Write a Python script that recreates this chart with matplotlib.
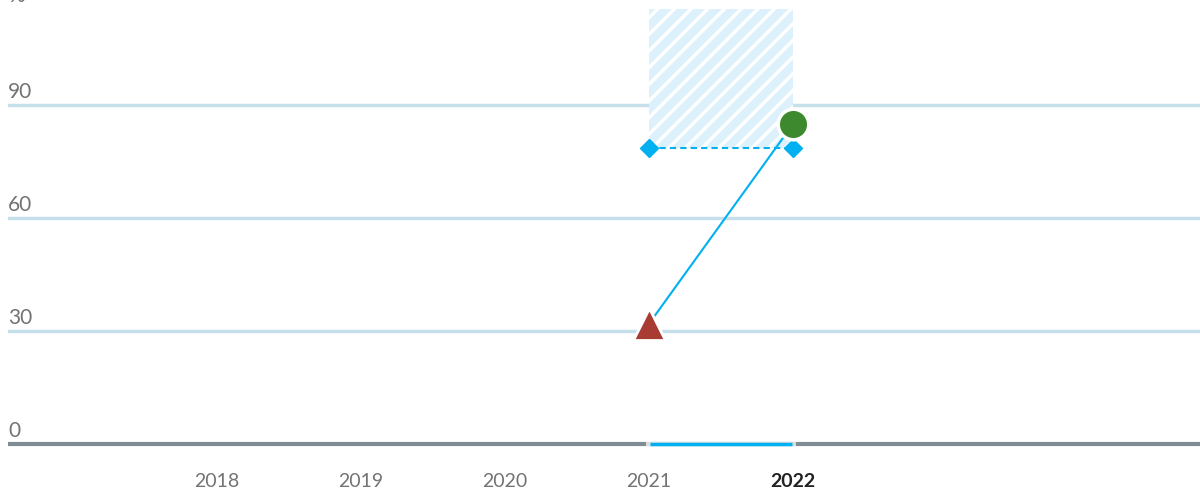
import matplotlib.pyplot as plt
from matplotlib.patches import Rectangle
import matplotlib as mpl

plt.rcParams['font.family'] = ['Lato', 'DejaVu Sans']
mpl.rcParams['hatch.linewidth'] = 2.5

years = [2018, 2019, 2020, 2021, 2022]
yticks = [0, 30, 60, 90]
start_year, start_val = 2021, 32
end_year, end_val = 2022, 85
target_val = 78.6
target_top = 115.5

blue = '#00b0f0'
fig = plt.figure(figsize=(12, 4.89), dpi=100)
ax = fig.add_axes([8 / 1200, (489 - 446) / 489, 1192 / 1200, 446 / 489])
ax.set_xlim(2016.549, 2024.826)
ax.set_ylim(-0.2, 118.2)

for sp in ax.spines.values():
    sp.set_visible(False)
ax.set_xticks([])
ax.set_yticks([])

# gridlines and labels
for v in yticks[1:]:
    ax.axhline(v, color='#c5e0ea', lw=2.5, zorder=1)
for v in yticks:
    ax.text(0.0, v + 1.2, str(v), transform=ax.get_yaxis_transform(),
            fontsize=15, color='#737373', va='bottom', ha='left')
ax.text(0.0, 116.6, '%', transform=ax.get_yaxis_transform(),
        fontsize=15, color='#737373', va='bottom', ha='left', clip_on=False)

# baseline
ax.axhline(0, color='#7f8c93', lw=3, zorder=2, clip_on=False, solid_capstyle='butt')
ax.plot([start_year - 0.02, end_year + 0.02], [0, 0], color='#dddddd', lw=3, zorder=3,
        solid_capstyle='butt', clip_on=False)
ax.plot([start_year + 0.01, end_year - 0.01], [0, 0], color=blue, lw=2.5, zorder=4,
        solid_capstyle='butt', clip_on=False)

# target range
ax.add_patch(Rectangle((start_year, target_val), end_year - start_year, target_top - target_val,
                       facecolor='#dcf1fb', edgecolor='white', hatch='//', lw=0, zorder=2))
ax.plot([start_year, end_year], [target_val, target_val], color=blue, lw=1.5,
        ls=(0, (3, 2)), zorder=5)
ax.plot([start_year, end_year], [target_val, target_val], 'D', color=blue, ms=9, zorder=6)

# trend line
ax.plot([start_year, end_year], [start_val, end_val], color=blue, lw=1.5, zorder=5)
ax.plot([start_year], [start_val], '^', color='#a83b32', ms=23, mec='white', mew=2, zorder=7)
ax.plot([end_year], [end_val], 'o', color='#3d8a2e', ms=22, mec='white', mew=2.5, zorder=7)

for y in years:
    bold = y == 2022
    ax.text(y, -7.3, str(y), ha='center', va='top', fontsize=14,
            color='#222222' if bold else '#737373',
            fontweight='bold' if bold else 'normal', clip_on=False)

fig.savefig('out.png', dpi=100)
